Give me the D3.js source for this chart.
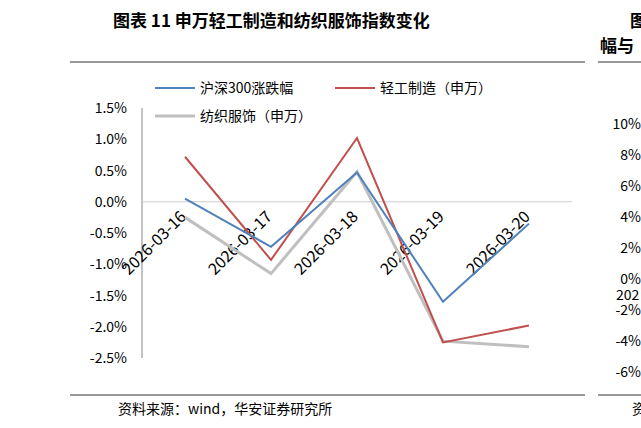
<!DOCTYPE html>
<html><head><meta charset="utf-8">
<script src="https://cdn.jsdelivr.net/npm/d3@7"></script>
<style>body{margin:0;background:#fff}text{font-family:"Noto Sans CJK SC","Liberation Sans",sans-serif}</style>
</head><body><svg id="c" width="641" height="428"></svg>
<script>
const categories=["2026-03-16","2026-03-17","2026-03-18","2026-03-19","2026-03-20"];
const hs300=[0.05,-0.72,0.47,-1.6,-0.35];
const qinggong=[0.72,-0.93,1.02,-2.25,-1.98];
const fangzhi=[-0.25,-1.15,0.48,-2.23,-2.32];
const yTicks=[1.5,1,0.5,0,-0.5,-1,-1.5,-2,-2.5];
const seriesNames=["沪深300涨跌幅","轻工制造（申万）","纺织服饰（申万）"];
const colors=["#4f81bd","#c0504d","#bfbfbf"];
const rightTicks=["10%","8%","6%","4%","2%","0%","-2%","-4%","-6%"];

const svg=d3.select("#c");
const x=d3.scaleBand().domain(categories).range([142,572]);
const y=d3.scaleLinear().domain([-2.5,1.5]).range([358,108]);

svg.append("text").attr("x",113).attr("y",27).attr("font-size",17).attr("font-weight","bold").text("图表 11 申万轻工制造和纺织服饰指数变化");
svg.append("line").attr("x1",70).attr("x2",585).attr("y1",62).attr("y2",62).attr("stroke","#333");
svg.append("line").attr("x1",70).attr("x2",585).attr("y1",395).attr("y2",395).attr("stroke","#333");
svg.append("text").attr("x",118).attr("y",414).attr("font-size",14).text("资料来源：wind，华安证券研究所");

svg.append("line").attr("x1",142).attr("x2",142).attr("y1",y(1.5)).attr("y2",y(-2.5)).attr("stroke","#888");
svg.append("line").attr("x1",142).attr("x2",572).attr("y1",y(0)).attr("y2",y(0)).attr("stroke","#ccc");
yTicks.forEach(t=>{
  svg.append("text").attr("x",127).attr("y",y(t)+5).attr("text-anchor","end").attr("font-size",14)
    .attr("font-family","Liberation Sans").text(t.toFixed(1)+"%");
});
categories.forEach(c=>{
  const cx=x(c)+x.bandwidth()/2+2;
  svg.append("text").attr("transform",`translate(${cx},${y(0)+16}) rotate(-45)`).attr("text-anchor","end")
   .attr("font-size",16).attr("font-family","Liberation Sans").text(c);
});
const line=d3.line().x((d,i)=>x(categories[i])+x.bandwidth()/2).y(d=>y(d));
[[fangzhi,2,3],[qinggong,1,2],[hs300,0,2]].forEach(([d,ci,w])=>{
  svg.append("path").attr("d",line(d)).attr("fill","none").attr("stroke",colors[ci]).attr("stroke-width",w);
});
const leg=[[155,88,0],[335,88,1],[155,116,2]];
leg.forEach(([lx,ly,i])=>{
  svg.append("line").attr("x1",lx).attr("x2",lx+40).attr("y1",ly).attr("y2",ly).attr("stroke",colors[i]).attr("stroke-width",i==2?3:2);
  svg.append("text").attr("x",lx+45).attr("y",ly+5).attr("font-size",14).text(seriesNames[i]);
});
svg.append("text").attr("x",630).attr("y",27).attr("font-size",17).attr("font-weight","bold").text("图");
svg.append("text").attr("x",600).attr("y",52).attr("font-size",17).attr("font-weight","bold").text("幅与");
svg.append("line").attr("x1",598).attr("x2",641).attr("y1",62).attr("y2",62).attr("stroke","#333");
svg.append("line").attr("x1",598).attr("x2",641).attr("y1",395).attr("y2",395).attr("stroke","#333");
rightTicks.forEach((t,i)=>{
  svg.append("text").attr("x",641).attr("y",129+i*31).attr("text-anchor","end").attr("font-size",14)
   .attr("font-family","Liberation Sans").text(t);
});
svg.append("text").attr("x",616).attr("y",300).attr("font-size",14).attr("font-family","Liberation Sans").text("202");
svg.append("text").attr("x",632).attr("y",414).attr("font-size",14).text("资");
</script></body></html>
